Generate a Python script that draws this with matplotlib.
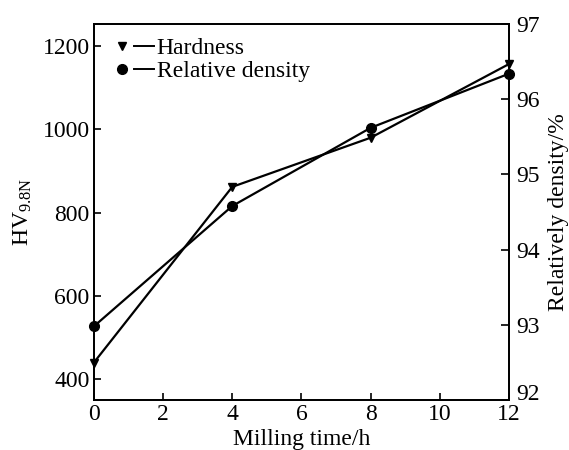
import numpy as np
import matplotlib
matplotlib.use('Agg')
import matplotlib.pyplot as plt
import matplotlib.transforms as mtransforms
from matplotlib.lines import Line2D
from matplotlib.legend_handler import HandlerTuple

plt.rcParams['font.family'] = 'Liberation Serif'
plt.rcParams['mathtext.fontset'] = 'custom'
plt.rcParams['mathtext.rm'] = 'Liberation Serif'
plt.rcParams['mathtext.it'] = 'Liberation Serif:italic'

# data
milling_time = [0, 4, 8, 12]
hardness = [440, 862, 980, 1157]
rel_density = [92.98, 94.58, 95.62, 96.34]

fig = plt.figure(figsize=(5.69, 4.5), dpi=100)
ax = fig.add_axes([0.165, 0.111, 0.7296, 0.8356])
ax2 = ax.twinx()

ax.plot(milling_time, hardness, color='black', lw=1.6, marker='v', ms=6, clip_on=False)
ax2.plot(milling_time, rel_density, color='black', lw=1.6, marker='o', ms=7, clip_on=False)

ax.set_xlim(0, 12)
ax.set_ylim(350, 1253)
ax2.set_ylim(92, 97)
ax.set_xticks([0, 2, 4, 6, 8, 10, 12])
ax.set_yticks([400, 600, 800, 1000, 1200])
ax2.set_yticks([92, 93, 94, 95, 96, 97])

fs = 17
ax.tick_params(axis='x', direction='in', length=5, width=1.2, labelsize=fs, pad=3)
ax.tick_params(axis='y', direction='in', length=5, width=1.2, labelsize=fs, pad=3)
ax2.tick_params(axis='y', direction='in', length=6, width=1.2, labelsize=fs, pad=5)
for a in (ax, ax2):
    for s in a.spines.values():
        s.set_linewidth(1.3)

# the lowest right-hand label sits a little above its tick
lbl92 = ax2.get_yticklabels()[0]
lbl92.set_transform(lbl92.get_transform() +
                    mtransforms.ScaledTranslation(0, 6 / 72, fig.dpi_scale_trans))

ax.set_xlabel('Milling time/h', fontsize=fs, labelpad=3)
ax.set_ylabel('HV$_{9.8\\mathrm{N}}$', fontsize=fs, labelpad=6)
ax2.set_ylabel('Relatively density/%', fontsize=fs, labelpad=6)

h1 = (Line2D([], [], color='black', marker='v', ms=6, ls='none'),
      Line2D([], [], color='black', lw=1.4))
h2 = (Line2D([], [], color='black', marker='o', ms=7, ls='none'),
      Line2D([], [], color='black', lw=1.4))
ax.legend([h1, h2], ['Hardness', 'Relative density'],
          handler_map={tuple: HandlerTuple(ndivide=2, pad=0.1)},
          loc='upper left', frameon=False, fontsize=fs, handlelength=1.8,
          handletextpad=0.1, labelspacing=0.05, borderaxespad=0.3,
          bbox_to_anchor=(0.003, 1.008))

fig.savefig('out.png', dpi=100)
